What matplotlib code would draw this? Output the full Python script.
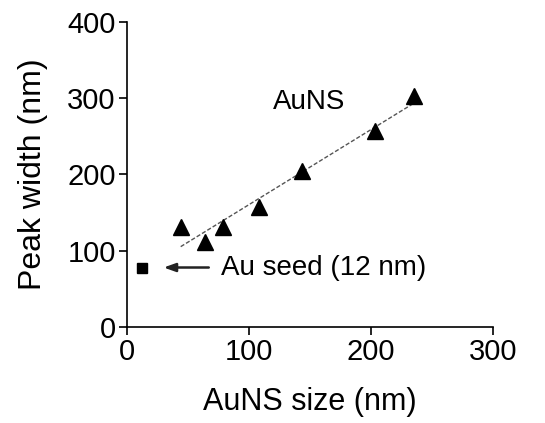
import numpy as np
import matplotlib
matplotlib.use("Agg")
import matplotlib.pyplot as plt

plt.rcParams['font.family'] = ['Liberation Sans', 'DejaVu Sans']

# Data
auns_size = [44, 64, 79, 108, 143, 203, 235]
auns_width = [131, 112, 131, 158, 205, 257, 303]
seed_size = [12]
seed_width = [78]
xticks = [0, 100, 200, 300]
yticks = [0, 100, 200, 300, 400]

fig = plt.figure(figsize=(5.45, 4.23), dpi=100)
ax = fig.add_axes([0.233, 0.227, 0.672, 0.721])

slope, intercept = np.polyfit(auns_size, auns_width, 1)
xf = np.array([min(auns_size), max(auns_size)])
ax.plot(xf, slope * xf + intercept, linestyle=(0, (3, 1.5)), color='#555555', linewidth=1.0, zorder=2)
ax.plot(auns_size, auns_width, linestyle='none', marker='^', color='black', markersize=11, zorder=3)
ax.plot(seed_size, seed_width, linestyle='none', marker='s', color='black', markersize=7, zorder=3)

ax.text(149, 295, 'AuNS', fontsize=20, ha='center', va='center')
ax.text(77, 77, 'Au seed (12 nm)', fontsize=20, ha='left', va='center')
ax.annotate('', xy=(30, 78), xytext=(67, 78),
            arrowprops=dict(arrowstyle='-|>,head_length=0.7,head_width=0.25',
                            color='#222222', lw=1.8, shrinkA=0, shrinkB=0))

ax.set_xlim(0, 300)
ax.set_ylim(0, 400)
ax.set_xticks(xticks)
ax.set_yticks(yticks)
ax.tick_params(labelsize=21, width=1.2, length=6, direction='out', pad=2)
for s in ['top', 'right']:
    ax.spines[s].set_visible(False)
for s in ['left', 'bottom']:
    ax.spines[s].set_linewidth(1.2)
ax.set_xlabel('AuNS size (nm)', fontsize=22, labelpad=15)
ax.set_ylabel('Peak width (nm)', fontsize=23, labelpad=14)

fig.savefig('out.png', dpi=100)
